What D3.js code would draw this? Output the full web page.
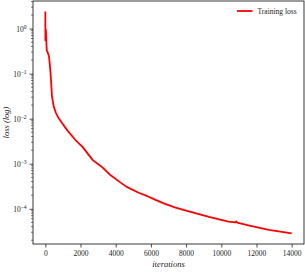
<!DOCTYPE html>
<html>
<head>
<meta charset="utf-8">
<script src="https://cdn.jsdelivr.net/npm/d3@7"></script>
<style>
  html, body { margin: 0; padding: 0; background: #fff; }
  svg { display: block; }
  text { font-family: "Liberation Serif", "Times New Roman", serif; fill: #222; }
</style>
</head>
<body>
<div id="chart"></div>
<script>
// iterations vs training loss
const iterations = [0, 5, 30, 80, 130, 210, 260, 300, 380, 480, 600, 760, 1000, 1250,
  1700, 2100, 2700, 3200, 3700, 4200, 4600, 5300, 5800, 6300, 6800, 7400, 8200, 9300, 10400,
  10800, 10850, 10900, 11600, 12700, 14000];
const trainLoss = [2.4, 0.55, 0.95, 0.33, 0.30, 0.24, 0.15, 0.10, 0.031, 0.0185, 0.0135,
  0.0102, 0.0075, 0.0055, 0.0034, 0.0024, 0.0012, 0.00086, 0.00056, 0.0004, 0.00031,
  0.000227, 0.000190, 0.000155, 0.000128, 0.000106, 8.6e-5, 6.6e-5, 5.2e-5, 5.0e-5, 5.25e-5, 4.95e-5,
  4.2e-5, 3.4e-5, 2.85e-5];
const xTicks = [0, 2000, 4000, 6000, 8000, 10000, 12000, 14000];
const yExponents = [0, -1, -2, -3, -4];
const legendLabel = 'Training loss';

const W = 305, H = 273;
const m = { top: 1, right: 1, bottom: 29, left: 33 };
const w = W - m.left - m.right;
const h = H - m.top - m.bottom;

const svg = d3.select('#chart').append('svg').attr('width', W).attr('height', H);
const g = svg.append('g').attr('transform', `translate(${m.left},${m.top})`);

// matplotlib-like 5% margins
const x = d3.scaleLinear().domain([-700, 14700]).range([0, w]);
const y = d3.scaleLog().domain([1.65e-5, 4.1]).range([h, 0]);

// x axis
const xAxis = g.append('g').attr('transform', `translate(0,${h})`)
  .call(d3.axisBottom(x).tickValues(xTicks).tickSize(3.5).tickPadding(3).tickFormat(d3.format('d')));
xAxis.select('.domain').remove();
xAxis.selectAll('text').attr('font-size', '7.5px').style('font-family', 'Liberation Serif');
xAxis.selectAll('line').attr('stroke', '#222').attr('stroke-width', 0.8);

// y axis: minor ticks
const minor = y.ticks().filter(v => Math.abs(Math.log10(v) - Math.round(Math.log10(v))) > 1e-6);
g.append('g').selectAll('line').data(minor).join('line')
  .attr('x1', 0).attr('x2', -2).attr('y1', d => y(d)).attr('y2', d => y(d))
  .attr('stroke', '#222').attr('stroke-width', 0.6);

// y axis: major ticks with superscript labels
const yAxis = g.append('g')
  .call(d3.axisLeft(y).tickValues(yExponents.map(e => Math.pow(10, e))).tickSize(3.5).tickPadding(3).tickFormat(''));
yAxis.select('.domain').remove();
yAxis.selectAll('line').attr('stroke', '#222').attr('stroke-width', 0.8);
yAxis.selectAll('.tick text').each(function (d) {
  const t = d3.select(this).attr('font-size', '7.5px').style('font-family', 'Liberation Serif');
  const e = Math.round(Math.log10(d));
  t.text(null);
  t.append('tspan').text('10');
  t.append('tspan').attr('dy', '-3').attr('font-size', '5.5px').text(e < 0 ? '\u2212' + (-e) : e);
});

// the loss curve
const pts = iterations.map((it, i) => ({ it, v: trainLoss[i] }));
g.append('path').datum(pts)
  .attr('fill', 'none').attr('stroke', '#ff0000').attr('stroke-width', 1.8)
  .attr('stroke-linejoin', 'round')
  .attr('d', d3.line().x(d => x(d.it)).y(d => y(d.v)));

// frame
g.append('rect').attr('width', w).attr('height', h)
  .attr('fill', 'none').attr('stroke', '#222').attr('stroke-width', 0.9);

// legend
const lg = g.append('g').attr('transform', `translate(${w - 67},10)`);
lg.append('line').attr('x1', 0).attr('x2', 15.5).attr('y1', 0).attr('y2', 0)
  .attr('stroke', '#ff0000').attr('stroke-width', 1.8);
lg.append('text').attr('x', 20.5).attr('y', 2.6).attr('font-size', '7.5px').text(legendLabel);

// axis labels
svg.append('text').attr('x', m.left + w / 2).attr('y', 267)
  .attr('text-anchor', 'middle').attr('font-size', '8.5px').attr('font-style', 'italic')
  .text('iterations');
svg.append('text')
  .attr('transform', `translate(9,${m.top + h / 2}) rotate(-90)`)
  .attr('text-anchor', 'middle').attr('font-size', '8.5px').attr('font-style', 'italic')
  .text('loss (log)');
</script>
</body>
</html>
